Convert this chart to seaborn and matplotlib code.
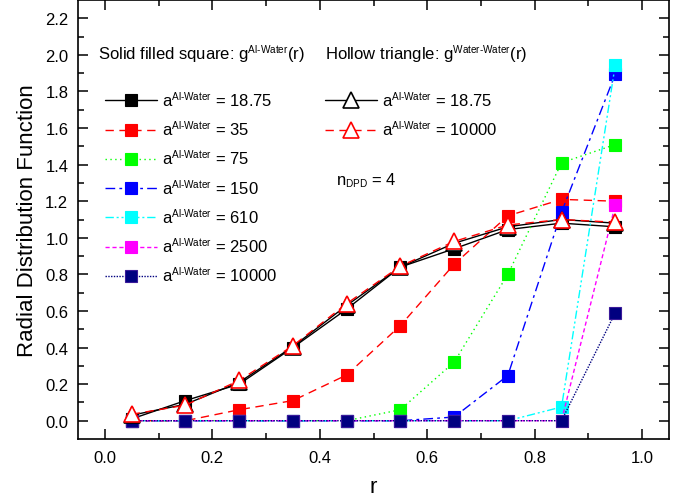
import numpy as np
import pandas as pd
import matplotlib
matplotlib.use("Agg")
import matplotlib.pyplot as plt
import matplotlib._mathtext as _mt
import seaborn as sns

r = [0.05, 0.15, 0.25, 0.35, 0.45, 0.55, 0.65, 0.75, 0.85, 0.95]

sq_labels = ["18.75", "35", "75", "150", "610", "2500", "10000"]
sq_18_75 = [0.01, 0.11, 0.20, 0.40, 0.61, 0.84, 0.94, 1.045, 1.08, 1.06]
sq_35 = [0.0, 0.0, 0.06, 0.11, 0.25, 0.52, 0.855, 1.12, 1.21, 1.20]
sq_75 = [0.0, 0.0, 0.0, 0.0, 0.0, 0.06, 0.32, 0.80, 1.41, 1.51]
sq_150 = [0.0, 0.0, 0.0, 0.0, 0.0, 0.0, 0.02, 0.247, 1.14, 1.895]
sq_610 = [0.0, 0.0, 0.0, 0.0, 0.0, 0.0, 0.0, 0.0, 0.075, 1.945]
sq_2500 = [0.0, 0.0, 0.0, 0.0, 0.0, 0.0, 0.0, 0.0, 0.0, 1.18]
sq_10000 = [0.0, 0.0, 0.0, 0.0, 0.0, 0.0, 0.0, 0.0, 0.0, 0.59]

tri_labels = ["18.75", "10000"]
tri_18_75 = [0.03, 0.09, 0.21, 0.405, 0.63, 0.84, 0.97, 1.06, 1.10, 1.08]
tri_10000 = [0.035, 0.085, 0.22, 0.41, 0.64, 0.845, 0.98, 1.07, 1.10, 1.085]

sns.set_style("ticks")
plt.rcParams["font.family"] = ["Liberation Sans", "DejaVu Sans"]
plt.rcParams["mathtext.fontset"] = "custom"
plt.rcParams["mathtext.rm"] = "Liberation Sans"
plt.rcParams["mathtext.it"] = "Liberation Sans:italic"
plt.rcParams["mathtext.bf"] = "Liberation Sans:bold"
for k in ["text.color", "axes.labelcolor", "xtick.color", "ytick.color", "axes.edgecolor"]:
    plt.rcParams[k] = "black"
# smaller super/subscripts as in the reference
_mt.SHRINK_FACTOR = 0.6

fig = plt.figure(figsize=(6.84, 5.02), dpi=100)
ax = fig.add_axes([78 / 684, 1 - 440 / 502, (669 - 78) / 684, (440 - 1) / 502])

sq_series = [sq_18_75, sq_35, sq_75, sq_150, sq_610, sq_2500, sq_10000]
sq_colors = ["#000000", "#ff0000", "#00ff00", "#0000ff", "#00ffff", "#ff00ff", "#000080"]
sq_edges = ["#000000", "#ff0000", "#00ff00", "#0000ff", "#00ffff", "#ff00ff", "#3a1a9a"]
sq_styles = ["-", (0, (6, 4)), (0, (1, 2.5)), (0, (7, 3, 2, 3)),
             (0, (6, 2, 1.5, 2, 1.5, 2)), (0, (3, 2)), (0, (1, 1))]

sq_handles = []
for vals, c, ec, ls in zip(sq_series, sq_colors, sq_edges, sq_styles):
    df = pd.DataFrame({"r": r, "g": vals})
    sns.lineplot(data=df, x="r", y="g", ax=ax, color=c, linestyle=ls, linewidth=1.0,
                 marker="s", markersize=8, markerfacecolor=c, markeredgecolor=ec,
                 markeredgewidth=0.8, errorbar=None, sort=False)
    sq_handles.append(ax.lines[-1])

tri_series = [tri_18_75, tri_10000]
tri_colors = ["#000000", "#ff0000"]
tri_styles = ["-", (0, (6, 4))]
tri_handles = []
for vals, c, ls in zip(tri_series, tri_colors, tri_styles):
    df = pd.DataFrame({"r": r, "g": vals})
    sns.lineplot(data=df, x="r", y="g", ax=ax, color=c, linestyle=ls, linewidth=1.0,
                 marker="^", markersize=11.5, markerfacecolor="white", markeredgecolor=c,
                 markeredgewidth=1.2, errorbar=None, sort=False)
    tri_handles.append(ax.lines[-1])

ax.set_xlim(-0.05, 1.05)
ax.set_ylim(-0.1, 2.3)
ax.set_xticks(np.arange(0, 1.01, 0.2))
ax.set_xticks(np.arange(0.1, 1.01, 0.2), minor=True)
ax.set_yticks(np.arange(0, 2.21, 0.2))
ax.set_yticks(np.arange(0.1, 2.21, 0.2), minor=True)
ax.set_xticklabels([f"{v:.1f}" for v in np.arange(0, 1.01, 0.2)])
ax.set_yticklabels([f"{v:.1f}" for v in np.arange(0, 2.21, 0.2)])
ax.tick_params(which="both", direction="in", top=True, right=True, width=1.1, labelsize=12)
ax.tick_params(which="major", length=7)
ax.tick_params(which="minor", length=4)
ax.tick_params(axis="x", which="major", pad=8)
ax.tick_params(axis="y", which="major", pad=7)
for s in ax.spines.values():
    s.set_linewidth(1.2)
    s.set_color("black")

ax.set_xlabel("r", fontsize=16, labelpad=8)
ax.set_ylabel("Radial Distribution Function", fontsize=16, labelpad=5)

lab_sq = [r"a$^{\text{Al-Water}}$ = " + v for v in sq_labels]
lab_tri = [r"a$^{\text{Al-Water}}$ = " + v for v in tri_labels]

leg1 = ax.legend(sq_handles, lab_sq, loc="upper left", bbox_to_anchor=(0.0457, 0.795),
                 frameon=False, fontsize=12, handlelength=3.1, handletextpad=0.3,
                 labelspacing=0.61, borderaxespad=0, borderpad=0, numpoints=1)
ax.add_artist(leg1)
leg2 = ax.legend(tri_handles, lab_tri, loc="upper left", bbox_to_anchor=(0.418, 0.795),
                 frameon=False, fontsize=12, handlelength=3.1, handletextpad=0.3,
                 labelspacing=0.61, borderaxespad=0, borderpad=0, numpoints=1)

ax.text(0.034, 0.876, r"Solid filled square: g$^{\text{Al-Water}}$(r)", transform=ax.transAxes,
        fontsize=12, va="center", ha="left")
ax.text(0.418, 0.876, r"Hollow triangle: g$^{\text{Water-Water}}$(r)", transform=ax.transAxes,
        fontsize=12, va="center", ha="left")
ax.text(0.437, 0.59, r"n$_{\text{DPD}}$ = 4", transform=ax.transAxes,
        fontsize=12, va="center", ha="left")

fig.savefig("out.png", dpi=100)
